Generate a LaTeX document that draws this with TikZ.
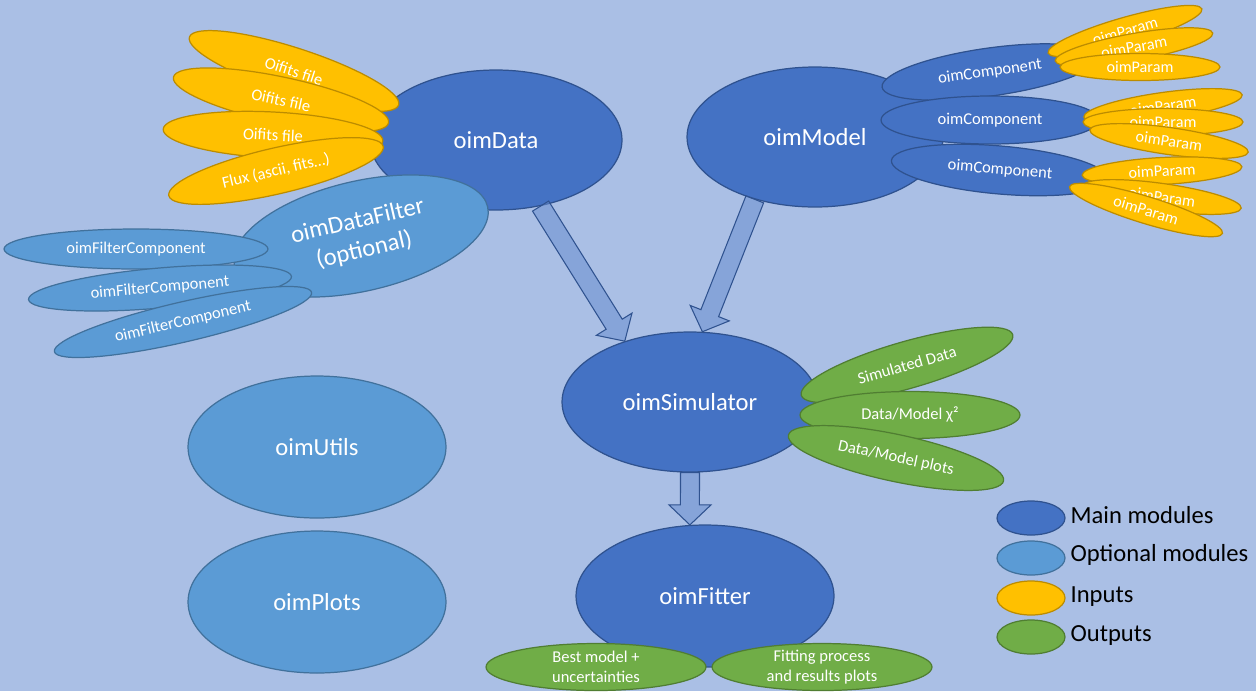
\documentclass[tikz,border=0pt]{standalone}
\usepackage{fontspec}
\setmainfont{Carlito}
\usepackage{xcolor}
\usetikzlibrary{shapes.geometric,calc}

\definecolor{bgblue}{HTML}{AABFE5}
\definecolor{mainblue}{HTML}{4472C4}
\definecolor{mainedge}{HTML}{2F528F}
\definecolor{optblue}{HTML}{5B9BD5}
\definecolor{optedge}{HTML}{41719C}
\definecolor{inyellow}{HTML}{FFC000}
\definecolor{inedge}{HTML}{BC8C00}
\definecolor{outgreen}{HTML}{70AD47}
\definecolor{outedge}{HTML}{507E32}

% wide flat arrow between two points
\newcommand{\blockarrow}[2]{%
  \coordinate (neck) at ($(#2)!0.4cm!(#1)$);
  \filldraw[fill=mainblue!80!white, fill opacity=.55, draw=mainedge, line width=.6pt]
    ($(#1)!0.19cm!90:(#2)$) -- ($(neck)!0.19cm!90:(#2)$) -- ($(neck)!0.42cm!90:(#2)$)
    -- (#2) -- ($(neck)!0.42cm!-90:(#2)$) -- ($(neck)!0.19cm!-90:(#2)$)
    -- ($(#1)!0.19cm!-90:(#2)$) -- cycle;
}

\begin{document}
\begin{tikzpicture}
  [x=0.02cm,y=-0.02cm,
   every node/.style={ellipse,inner sep=0pt,line width=.7pt,align=center,text=white},
   mainmod/.style={fill=mainblue,draw=mainedge,font=\fontsize{14}{16}\selectfont},
   optmod/.style={fill=optblue,draw=optedge,font=\fontsize{14}{17}\selectfont},
   filtcomp/.style={fill=optblue,draw=optedge,minimum width=5.28cm,minimum height=0.8cm,font=\fontsize{9.4}{11}\selectfont},
   infile/.style={fill=inyellow,draw=inedge,minimum width=4.4cm,minimum height=0.92cm,font=\fontsize{9.4}{11}\selectfont},
   modcomp/.style={fill=mainblue,draw=mainedge,minimum width=4.36cm,minimum height=0.96cm,font=\fontsize{9.4}{11}\selectfont},
   param/.style={fill=inyellow,draw=inedge,minimum width=3.2cm,minimum height=0.54cm,font=\fontsize{9.2}{11}\selectfont},
   outfile/.style={fill=outgreen,draw=outedge,minimum width=4.4cm,minimum height=0.94cm,inner ysep=-2pt,font=\fontsize{9.4}{11.4}\selectfont},
   legmark/.style={minimum width=1.36cm,minimum height=0.68cm},
   legtext/.style={rectangle,anchor=west,text=black,font=\fontsize{14}{16}\selectfont}]

  \useasboundingbox (0,0) rectangle (1256,691);
  \fill[bgblue] (0,0) rectangle (1256,691);

  % main modules
  \node[mainmod,minimum width=5.04cm,minimum height=2.8cm] (data) at (496,140) {oimData};
  \node[mainmod,minimum width=5.12cm,minimum height=2.8cm] (model) at (815,137) {oimModel};
  \node[mainmod,minimum width=5.12cm,minimum height=2.8cm] (sim) at (690,402) {oimSimulator};
  \node[mainmod,minimum width=5.16cm,minimum height=2.84cm] (fit) at (705,596) {oimFitter};

  % optional modules
  \node[optmod,minimum width=5.16cm,minimum height=2.84cm] (utils) at (317,447) {oimUtils};
  \node[optmod,minimum width=5.16cm,minimum height=2.84cm] (plots) at (317,602) {oimPlots};

  % data inputs
  \node[infile,rotate=-18] (in1) at (294,71) {Oifits file};
  \node[infile,rotate=-12] (in2) at (281,100) {Oifits file};
  \node[infile,rotate=-3] (in3) at (273,135) {Oifits file};
  \node[infile,rotate=13] (in4) at (276,171) {Flux (ascii, fits…)};

  \node[optmod,rotate=13,minimum width=5.2cm,minimum height=2.2cm] (filt) at (361,236) {oimDataFilter\\(optional)};
  \node[filtcomp] (fc1) at (136,249) {oimFilterComponent};
  \node[filtcomp,rotate=5] (fc2) at (160,288) {oimFilterComponent};
  \node[filtcomp,rotate=13] (fc3) at (183,322) {oimFilterComponent};

  % model components and their parameters
  \node[modcomp,rotate=8] (mc1) at (990,72) {oimComponent};
  \node[modcomp] (mc2) at (990,120) {oimComponent};
  \node[modcomp,rotate=-5] (mc3) at (1000,170) {oimComponent};

  \foreach \x/\y/\r [count=\i] in {1125/31/16, 1134/47/10, 1140/67/0,
                                   1163/106/8, 1163/122/0, 1169/141/-8,
                                   1162/171/3, 1162/197/-8, 1146/210/-17}
    \node[param,rotate=\r] (p\i) at (\x,\y) {oimParam};

  % simulator outputs
  \node[outfile,rotate=16] (out1) at (907,365) {Simulated Data};
  \node[outfile] (out2) at (910,415) {Data/Model χ²};
  \node[outfile,rotate=-12] (out3) at (896,458) {Data/Model plots};

  % fitter outputs
  \node[outfile] (best) at (596,667) {Best model +\\uncertainties};
  \node[outfile] (fitres) at (822,667) {Fitting process\\and results plots};

  \foreach \from/\to in {data.-56/sim.137, model.-134/sim.80, sim.-90/fit.102}
    {\blockarrow{\from}{\to}}

  % legend
  \node[legmark,fill=mainblue,draw=mainedge] (leg1) at (1031,518) {};
  \node[legmark,fill=optblue,draw=optedge] (leg2) at (1031,558) {};
  \node[legmark,fill=inyellow,draw=inedge] (leg3) at (1031,598) {};
  \node[legmark,fill=outgreen,draw=outedge] (leg4) at (1031,637) {};
  \node[legtext] (legt1) at (1070,515) {Main modules};
  \node[legtext] (legt2) at (1070,555) {Optional modules};
  \node[legtext] (legt3) at (1070,597) {Inputs};
  \node[legtext] (legt4) at (1070,635) {Outputs};

\end{tikzpicture}
\end{document}
